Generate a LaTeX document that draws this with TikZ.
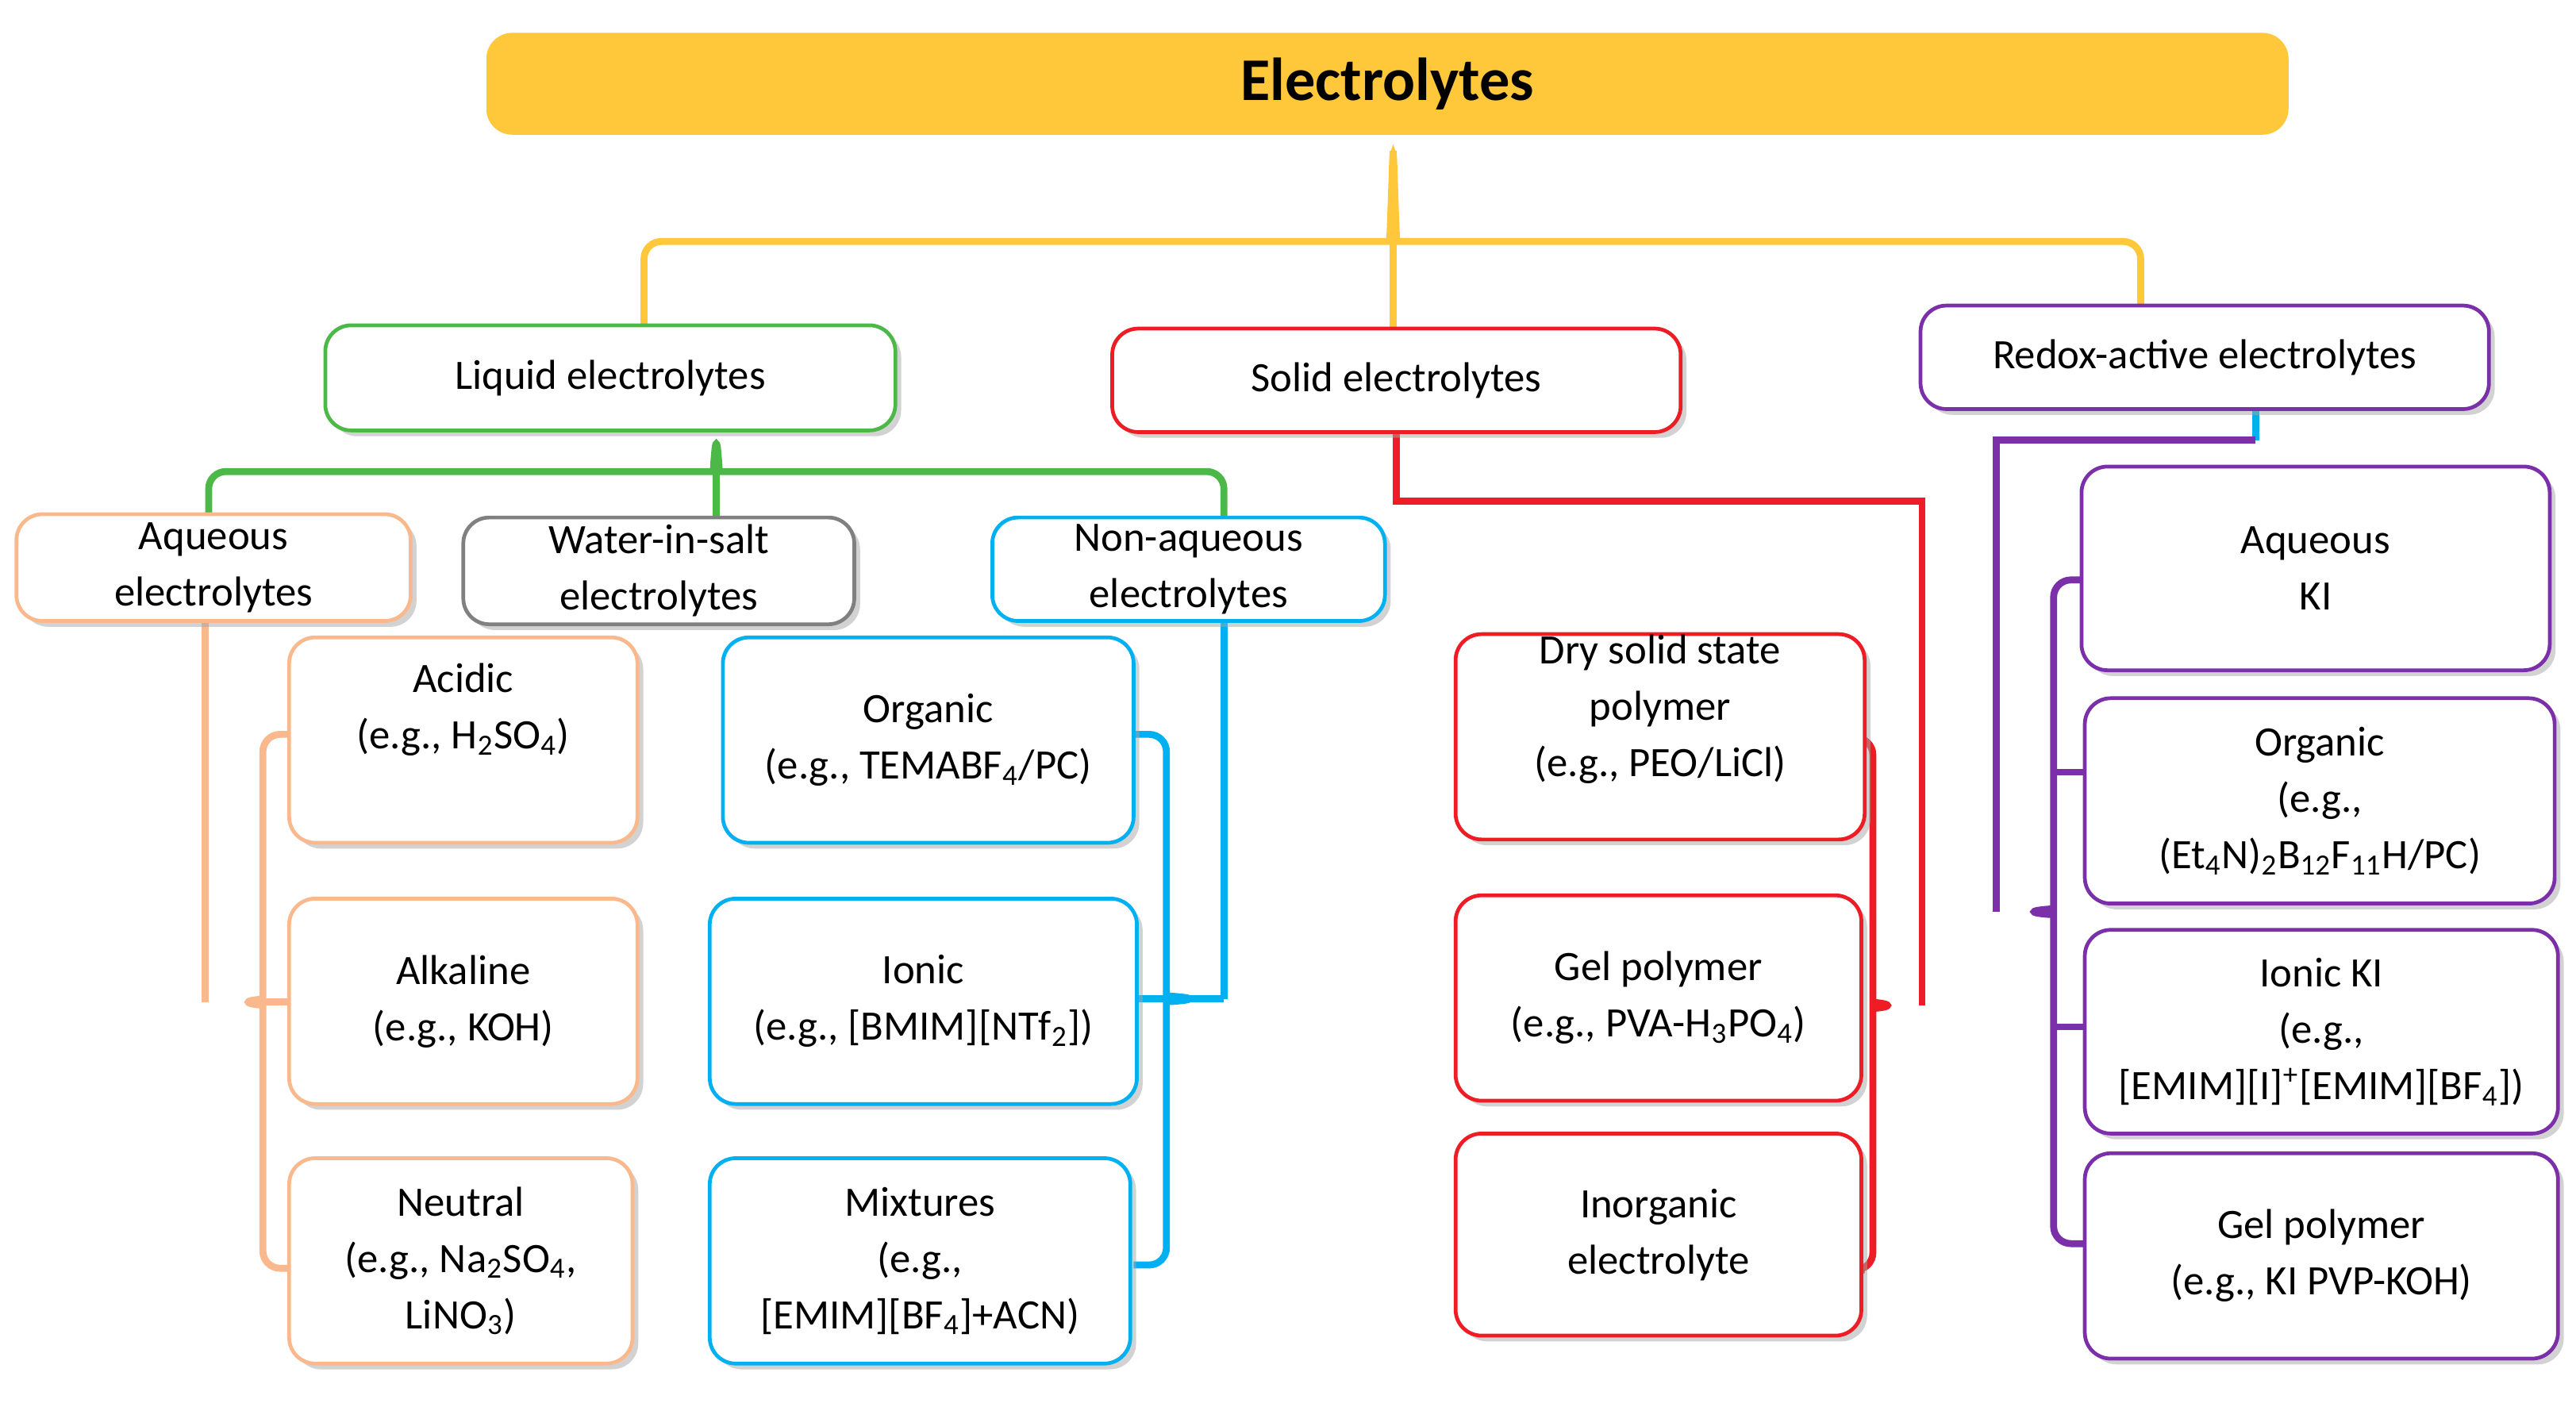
\documentclass[tikz,border=0pt]{standalone}
\usepackage{fontspec}
\setmainfont{Carlito}
\usetikzlibrary{fit,shadows}
\definecolor{cy}{HTML}{FFC83A}
\definecolor{cg}{HTML}{4CB848}
\definecolor{cr}{HTML}{EE1C25}
\definecolor{cp}{HTML}{7B2FA8}
\definecolor{cc}{HTML}{00B0F0}
\definecolor{co}{HTML}{F9B98D}
\definecolor{cgr}{HTML}{808080}
\newcommand{\sbs}[1]{\textsubscript{#1}}
\newcommand{\sps}[1]{\textsuperscript{#1}}
\tikzset{
 box/.style={draw=#1,line width=1.3pt,rounded corners=9pt,fill=white,inner sep=0pt,
   drop shadow={shadow xshift=2pt,shadow yshift=-2pt,fill=black!35}},
 txt/.style={align=center,font=\fontsize{14.5}{19.5}\selectfont,inner sep=0pt},
 ln/.style={draw=#1,line width=2.4pt,rounded corners=6pt},
}
\newcommand{\bx}[7]{\node[box=#6,fit={(#2,#3)(#4,#5)}] (#1) {};\node[txt] at (#1) {#7};}
\begin{document}
\begin{tikzpicture}[x=0.02cm,y=-0.02cm]
\useasboundingbox (0,0) rectangle (1568,856);
% connectors
\draw[ln=cy] (392,198) -- (392,147) -- (835,147) .. controls (846,147) .. (848,88) .. controls (850,147) .. (861,147) -- (1303,147) -- (1303,186);
\draw[ln=cy,rounded corners=0] (848,92) -- (848,200);
\draw[ln=cg] (127,313) -- (127,287) -- (425,287) .. controls (434,287) .. (436,264) .. controls (438,287) .. (447,287) -- (745,287) -- (745,315);
\draw[ln=cg,rounded corners=0] (436,270) -- (436,315);
\draw[ln=co,rounded corners=0] (125,378) -- (125,610);
\draw[ln=co] (176,447) -- (160,447) -- (160,600) .. controls (160,608) .. (145,610) .. controls (160,612) .. (160,620) -- (160,772) -- (176,772);
\draw[ln=co,rounded corners=0] (150,610) -- (176,610);
\draw[ln=cc,rounded corners=0] (745,378) -- (745,608);
\draw[ln=cc] (690,447) -- (710,447) -- (710,598) .. controls (710,606) .. (730,608) .. controls (710,610) .. (710,618) -- (710,770) -- (690,770);
\draw[ln=cc,rounded corners=0] (692,608) -- (745,608);
\draw[ln=cr,rounded corners=0] (850,263) -- (850,305) -- (1170,305) -- (1170,612);
\draw[ln=cr] (1135,449) -- (1140,449) -- (1140,602) .. controls (1140,610) .. (1155,612) .. controls (1140,614) .. (1140,622) -- (1140,773) -- (1135,773);
\draw[ln=cc,rounded corners=0] (1373,249) -- (1373,268);
\draw[ln=cp,rounded corners=0] (1373,268) -- (1215,268) -- (1215,555);
\draw[ln=cp] (1267,353) -- (1250,353) -- (1250,545) .. controls (1250,553) .. (1232,555) .. controls (1250,557) .. (1250,565) -- (1250,757) -- (1269,757);
\draw[ln=cp,rounded corners=0] (1250,470) -- (1269,470) (1250,625) -- (1269,625);
% title
\node[fill=cy,rounded corners=9pt,fit={(296,20)(1393,82)},inner sep=0pt] (t) {};
\node[font=\fontsize{21}{24}\selectfont\bfseries] at (t) {Electrolytes};
% boxes
\bx{liq}{198}{198}{545}{262}{cg}{Liquid electrolytes}
\bx{sol}{677}{200}{1023}{263}{cr}{Solid electrolytes}
\bx{red}{1169}{186}{1515}{249}{cp}{Redox-active electrolytes}
\bx{aq}{10}{313}{250}{378}{co}{Aqueous\\electrolytes}
\bx{wis}{282}{315}{520}{380}{cgr}{Water-in-salt\\electrolytes}
\bx{naq}{604}{315}{843}{378}{cc}{Non-aqueous\\electrolytes}
\bx{acid}{176}{388}{388}{513}{co}{Acidic\\(e.g., H\sbs{2}SO\sbs{4})\\[4pt]}
\bx{alk}{176}{547}{388}{672}{co}{Alkaline\\(e.g., KOH)}
\bx{neu}{176}{705}{385}{830}{co}{Neutral\\(e.g., Na\sbs{2}SO\sbs{4},\\LiNO\sbs{3})}
\bx{org}{440}{388}{690}{513}{cc}{Organic\\(e.g., TEMABF\sbs{4}/PC)}
\bx{ion}{432}{547}{692}{672}{cc}{Ionic\\(e.g., [BMIM][NTf\sbs{2}])}
\bx{mix}{432}{705}{688}{830}{cc}{Mixtures\\(e.g.,\\{}[EMIM][BF\sbs{4}]+ACN)}
\bx{dry}{886}{386}{1135}{511}{cr}{Dry solid state\\polymer\\(e.g., PEO/LiCl)\\[2pt]}
\bx{gel}{886}{545}{1133}{670}{cr}{Gel polymer\\(e.g., PVA-H\sbs{3}PO\sbs{4})}
\bx{ino}{886}{690}{1133}{813}{cr}{Inorganic\\electrolyte}
\bx{aki}{1267}{284}{1552}{408}{cp}{Aqueous\\KI}
\bx{oki}{1269}{425}{1555}{550}{cp}{Organic\\(e.g.,\\(Et\sbs{4}N)\sbs{2}B\sbs{12}F\sbs{11}H/PC)}
\bx{iki}{1269}{566}{1557}{690}{cp}{Ionic KI\\(e.g.,\\{}[EMIM][I]\sps{+}[EMIM][BF\sbs{4}])}
\bx{gki}{1269}{702}{1557}{827}{cp}{Gel polymer\\(e.g., KI PVP-KOH)}
\end{tikzpicture}
\end{document}
